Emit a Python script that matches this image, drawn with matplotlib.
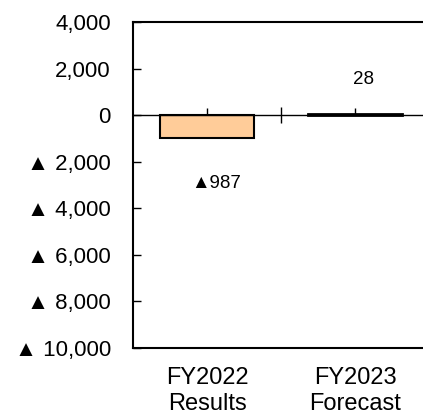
import matplotlib
matplotlib.use('Agg')
import matplotlib.pyplot as plt
from matplotlib.ticker import FuncFormatter

categories = ['FY2022\nResults', 'FY2023\nForecast']
values = [-987, 28]
yticks = [4000, 2000, 0, -2000, -4000, -6000, -8000, -10000]

plt.rcParams['font.family'] = ['Liberation Sans', 'Noto Sans CJK JP', 'DejaVu Sans']


def fmt_tick(v, pos=None):
    v = int(round(v))
    if v < 0:
        return '\u25B2 {:,}'.format(-v)
    return '{:,}'.format(v)


def fmt_label(v):
    if v < 0:
        return '\u25B2{:,}'.format(-v)
    return '{:,}'.format(v)


fig = plt.figure(figsize=(4.23, 4.20), dpi=100)
ax = fig.add_axes([133 / 423, 72 / 420, 296 / 423, 326 / 420])

x = list(range(len(categories)))
bars = ax.bar(x, values, width=0.63, color='#FFCC99', edgecolor='black', linewidth=1.5)
bars[1].set_linewidth(2)

ax.set_xlim(-0.5, 1.5)
ax.set_ylim(-10000, 4000)
ax.set_yticks(yticks)
ax.yaxis.set_major_formatter(FuncFormatter(fmt_tick))
ax.tick_params(axis='y', direction='in', length=6, width=1, pad=16, labelsize=16)
ax.set_xticks(x)
ax.set_xticklabels(categories)
ax.tick_params(axis='x', length=0, pad=14, labelsize=17)
for t in ax.get_xticklabels():
    t.set_linespacing(1.2)

for side in ['top', 'bottom', 'left', 'right']:
    ax.spines[side].set_linewidth(1.5)

# zero line with category ticks
ax.axhline(0, color='black', linewidth=1, zorder=1)
ax.plot(x, [0] * len(x), linestyle='none', marker=2, markersize=5,
        markeredgewidth=1, color='black', zorder=1)
ax.plot([0.5], [0], linestyle='none', marker='|', markersize=11,
        markeredgewidth=1, color='black', zorder=1)

# data labels
offsets = [(6.5, -33), (6, 25)]
for xi, v, off in zip(x, values, offsets):
    ax.annotate(fmt_label(v), (xi, v), xytext=off, textcoords='offset points',
                ha='center', va='center', fontsize=13.5)

fig.savefig('out.png', dpi=100)
